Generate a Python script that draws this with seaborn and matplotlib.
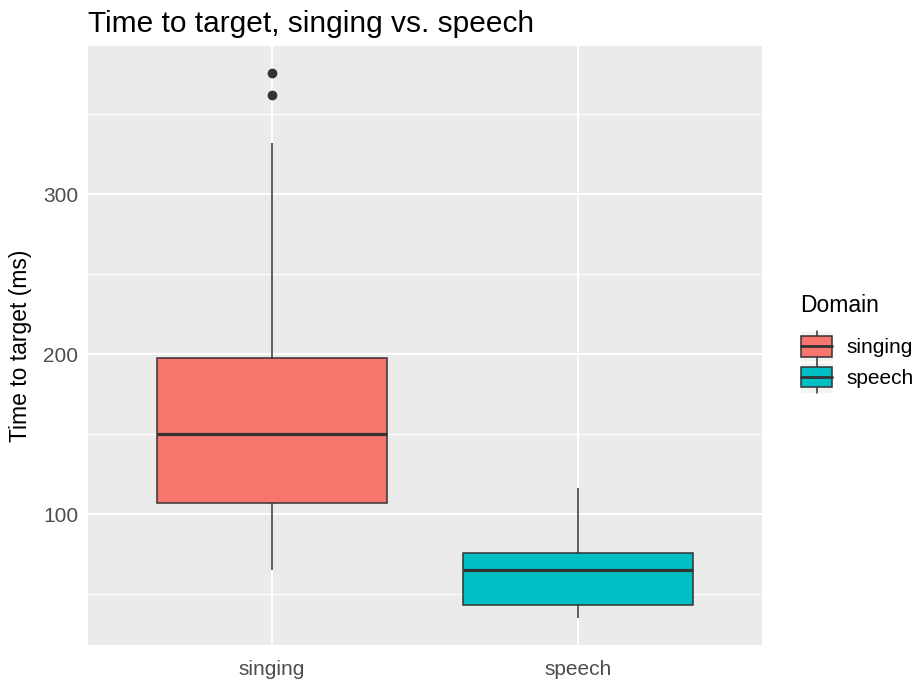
import matplotlib
matplotlib.use("Agg")
import matplotlib.pyplot as plt
from matplotlib.legend_handler import HandlerBase
from matplotlib.patches import Rectangle, Patch
from matplotlib.lines import Line2D
import pandas as pd
import seaborn as sns

# Five-number summaries of time to target (ms) per domain
domains = ["singing", "speech"]
whisker_low = [65.2, 35.4]
q1 = [107.3, 43.3]
median = [150.0, 65.2]
q3 = [197.5, 76.0]
whisker_high = [331.9, 116.7]
outliers = [[362.0, 375.6], []]
colors = ["#F8766D", "#00BFC4"]

# Expand each summary into a sample whose linear quartiles and 1.5*IQR
# whiskers reproduce it exactly (n = 4k + 1 points)
rows = []
for i, d in enumerate(domains):
    k = 1 + len(outliers[i])
    vals = ([whisker_low[i]] + [q1[i]] * k + [median[i]] * k + [q3[i]] * k
            + [whisker_high[i]] + list(outliers[i]))
    rows += [(d, v) for v in vals]
df = pd.DataFrame(rows, columns=["Domain", "time"])

sns.set_style("darkgrid")
plt.rcParams["font.family"] = ["Liberation Sans", "DejaVu Sans"]

fig = plt.figure(figsize=(9.15, 6.8), dpi=100)
ax = fig.add_axes([88 / 915, 1 - 645 / 680, (762 - 88) / 915, (645 - 46) / 680])
ax.set_facecolor("#EBEBEB")

sns.boxplot(
    data=df, x="Domain", y="time", hue="Domain",
    palette=dict(zip(domains, colors)), saturation=1,
    width=0.75, linecolor="#333333", linewidth=1.1,
    showcaps=False, fliersize=6,
    flierprops=dict(marker="o", markerfacecolor="#333333",
                    markeredgecolor="#333333"),
    medianprops=dict(linewidth=2.3),
    legend=False, ax=ax,
)

# Axis limits with ggplot-style expansion
lo = min(whisker_low)
hi = max(max(whisker_high), max(max(o) for o in outliers if o))
pad = 0.05 * (hi - lo)
ax.set_ylim(lo - pad, hi + pad)
ax.set_xlim(-0.6, len(domains) - 0.4)

ax.set_yticks([100, 200, 300])
ax.set_yticks([50, 150, 250, 350], minor=True)
ax.grid(False)
ax.yaxis.grid(True, which="major", color="white", linewidth=1.5)
ax.yaxis.grid(True, which="minor", color="white", linewidth=0.75)
ax.xaxis.grid(True, which="major", color="white", linewidth=1.5)
ax.set_axisbelow(True)
for s in ax.spines.values():
    s.set_visible(False)

ax.tick_params(axis="both", which="major", length=3.6, width=0.8,
               color="#333333", labelcolor="#4D4D4D", labelsize=15, pad=3.5)
ax.tick_params(axis="x", which="major", pad=7)
ax.tick_params(axis="y", which="minor", length=0)

ax.set_xlabel("")
ax.set_ylabel("Time to target (ms)", fontsize=16.5, color="black", labelpad=8)
ax.set_title("Time to target, singing vs. speech", loc="left",
             fontsize=21.5, color="black", pad=10)


class BoxKeyHandler(HandlerBase):
    """Legend key drawn as a miniature boxplot on a light key background."""

    def create_artists(self, legend, orig_handle, xdescent, ydescent,
                       width, height, fontsize, trans):
        x0, y0 = -xdescent, -ydescent
        fc = orig_handle.get_facecolor()
        bg = Rectangle((x0, y0), width, height, facecolor="#F2F2F2",
                       edgecolor="white", linewidth=1.0, transform=trans)
        bx0 = x0 + width * 0.03
        bw = width * 0.94
        by0 = y0 + height * 0.17
        bh = height * 0.66
        cx = x0 + width / 2
        w1 = Line2D([cx, cx], [y0, by0], color="#333333",
                    linewidth=1.1, transform=trans)
        w2 = Line2D([cx, cx], [by0 + bh, y0 + height], color="#333333",
                    linewidth=1.1, transform=trans)
        box = Rectangle((bx0, by0), bw, bh, facecolor=fc, edgecolor="#333333",
                        linewidth=1.1, transform=trans)
        med = Line2D([bx0, bx0 + bw], [by0 + bh / 2] * 2, color="#333333",
                     linewidth=2.0, transform=trans)
        return [bg, w1, w2, box, med]


# Legend title and entries
fig.text(800 / 915, 1 - 312 / 680, "Domain", fontsize=16.5, color="black",
         ha="left", va="baseline")
handles = [Patch(facecolor=c) for c in colors]
leg = fig.legend(
    handles, domains, loc="upper left",
    bbox_to_anchor=(800 / 915, 1 - 331 / 680),
    frameon=False, fontsize=15,
    handler_map={Patch: BoxKeyHandler()},
    handlelength=1.6, handleheight=1.9, labelspacing=0.0,
    handletextpad=0.65, borderpad=0, borderaxespad=0,
)
for t in leg.get_texts():
    t.set_color("black")

fig.savefig("out.png", dpi=100, facecolor="white")
